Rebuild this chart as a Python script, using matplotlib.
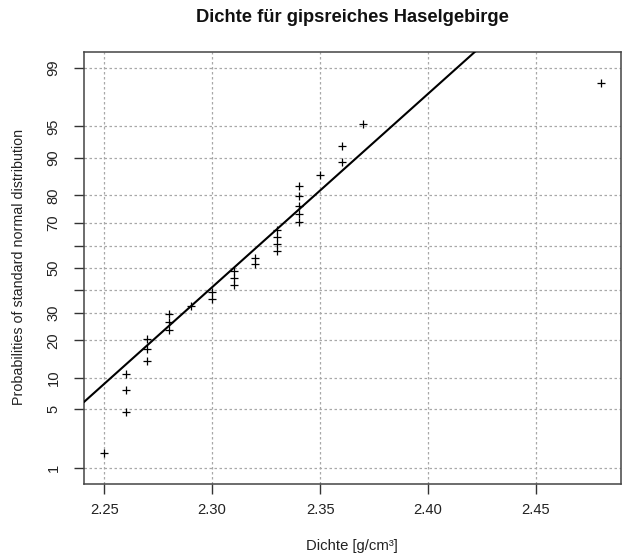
import numpy as np
import matplotlib
matplotlib.use("Agg")
import matplotlib.pyplot as plt
from statistics import NormalDist

plt.rcParams['font.family'] = ['Liberation Sans', 'DejaVu Sans']

# Density values (g/cm³), sorted
dichte = [2.25,
          2.26, 2.26, 2.26,
          2.27, 2.27, 2.27,
          2.28, 2.28, 2.28,
          2.29,
          2.30, 2.30,
          2.31, 2.31, 2.31,
          2.32, 2.32,
          2.33, 2.33, 2.33, 2.33,
          2.34, 2.34, 2.34, 2.34, 2.34,
          2.35,
          2.36, 2.36,
          2.37,
          2.48]

prob_ticks = [1, 5, 10, 20, 30, 40, 50, 60, 70, 80, 90, 95, 99]
prob_labels = ["1", "5", "10", "20", "30", "", "50", "", "70", "80", "90", "95", "99"]
x_ticks = [2.25, 2.30, 2.35, 2.40, 2.45]

nd = NormalDist()
x = np.sort(np.array(dichte))
n = len(x)
pp = (np.arange(1, n + 1) - 0.5) / n
z = np.array([nd.inv_cdf(p) for p in pp])

# qqline through quartiles
q1, q3 = np.quantile(x, [0.25, 0.75])
zq1, zq3 = nd.inv_cdf(0.25), nd.inv_cdf(0.75)
slope = (zq3 - zq1) / (q3 - q1)
icpt = zq1 - slope * q1

fig = plt.figure(figsize=(6.22, 5.57), dpi=100)
ax = fig.add_axes([84.3 / 622, 1 - 484 / 557, (620.7 - 84.3) / 622, (484 - 51.7) / 557])

ytick_z = [nd.inv_cdf(p / 100) for p in prob_ticks]
for yz in ytick_z:
    ax.axhline(yz, color="#a8a8a8", lw=0.9, ls=(0, (2, 2)), zorder=1)
for xv in x_ticks:
    ax.axvline(xv, color="#a8a8a8", lw=0.9, ls=(0, (2, 2)), zorder=1)

ax.plot(x, z, linestyle="none", marker="+", color="black", markersize=5.5, mew=0.9, zorder=3)

xr = x.max() - x.min()
xlim = (x.min() - 0.04 * xr, x.max() + 0.04 * xr)
zr = ytick_z[-1] - ytick_z[0]
ylim = (ytick_z[0] - 0.04 * zr, ytick_z[-1] + 0.04 * zr)
xl = np.array(xlim)
ax.plot(xl, icpt + slope * xl, color="black", lw=1.5, zorder=4)
ax.set_xlim(xlim)
ax.set_ylim(ylim)

ax.set_yticks(ytick_z)
ax.set_yticklabels(prob_labels, rotation=90, va="center", fontsize=10.6, color="#222222")
ax.set_xticks(x_ticks)
ax.set_xticklabels([f"{v:.2f}" for v in x_ticks], fontsize=10.6, color="#222222")
ax.tick_params(axis="both", direction="out", length=7, width=1, color="#333333")
ax.tick_params(axis="x", pad=7)
ax.tick_params(axis="y", pad=10)

for s in ax.spines.values():
    s.set_color("#444444")
    s.set_linewidth(1.1)

fig.text(352 / 622, 1 - 18 / 557, "Dichte für gipsreiches Haselgebirge", ha="center", va="center",
         fontsize=13.2, fontweight="bold", color="#111111")
fig.text(352 / 622, 1 - 546 / 557, "Dichte [g/cm³]", ha="center", va="center", fontsize=10.7, color="#222222")
fig.text(19 / 622, 1 - 267 / 557, "Probabilities of standard normal distribution", ha="center", va="center",
         rotation=90, fontsize=10.3, color="#222222")

fig.savefig("out.png", dpi=100)
